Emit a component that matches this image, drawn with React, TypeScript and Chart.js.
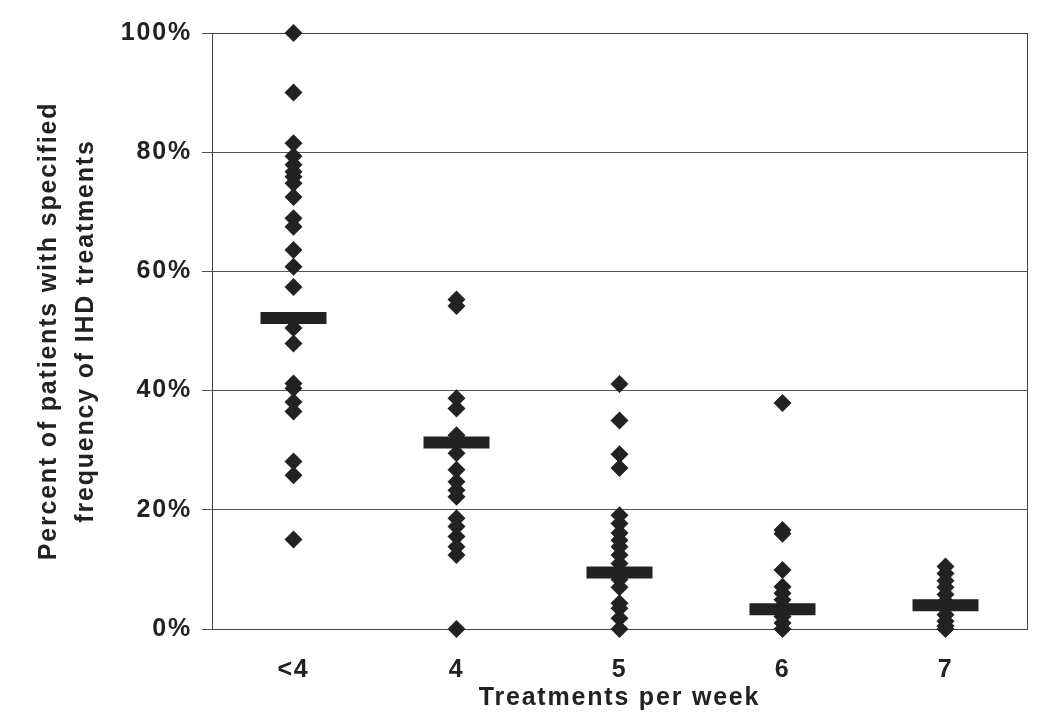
import React, { useEffect, useRef } from 'react';
import { Chart, registerables } from 'chart.js';

Chart.register(...registerables);

const categories = ['<4', '4', '5', '6', '7'];
const lessThan4Values = [100, 90, 81.5, 79.3, 77.9, 76.7, 75.9, 74.8, 72.5, 68.9, 67.5, 63.6, 60.8, 57.4, 50.5, 47.9, 41.2, 40.4, 38.1, 36.5, 28.1, 25.8, 15.0];
const fourValues = [55.3, 54.2, 38.7, 37.0, 32.5, 29.5, 26.7, 24.7, 23.3, 22.2, 18.6, 17.2, 15.5, 13.8, 12.4, 0];
const fiveValues = [41.1, 35.0, 29.3, 27.0, 19.1, 17.7, 16.1, 14.9, 13.8, 12.4, 11.0, 9.8, 8.3, 7.0, 4.3, 3.5, 1.8, 0];
const sixValues = [37.9, 16.6, 16.0, 9.9, 7.1, 6.0, 4.9, 3.8, 2.1, 1.0, 0];
const sevenValues = [10.5, 9.3, 8.1, 7.0, 5.8, 4.6, 3.5, 2.4, 1.3, 0.5, 0];
const medianValues = [52.2, 31.3, 9.5, 3.3, 4.0];
const yTickValues = [0, 20, 40, 60, 80, 100];
const xTitle = 'Treatments per week';
const yTitle = ['Percent of patients with specified', 'frequency of IHD treatments'];

const FONT = "'Liberation Sans', Arial, sans-serif";
const INK = '#222222';
const SPACING = '1.8px';

export default function App() {
  const ref = useRef<HTMLCanvasElement | null>(null);

  useEffect(() => {
    document.body.style.margin = '0';
    const canvas = ref.current;
    if (!canvas) return;

    const groups = [lessThan4Values, fourValues, fiveValues, sixValues, sevenValues];
    const points: { x: string; y: number }[] = [];
    groups.forEach((vals, i) => {
      vals.forEach((v) => points.push({ x: categories[i], y: v }));
    });
    const medians = medianValues.map((v, i) => ({ x: categories[i], y: v }));

    const spacingPlugin = {
      id: 'letterSpacing',
      beforeInit(chart: any) {
        (chart.ctx as any).letterSpacing = SPACING;
      },
      beforeUpdate(chart: any) {
        (chart.ctx as any).letterSpacing = SPACING;
      },
      beforeDraw(chart: any) {
        (chart.ctx as any).letterSpacing = SPACING;
      },
    };

    const borderPlugin = {
      id: 'areaBorder',
      beforeDatasetsDraw(chart: any) {
        const { ctx, chartArea } = chart;
        ctx.save();
        ctx.strokeStyle = '#444';
        ctx.lineWidth = 1;
        ctx.strokeRect(
          Math.round(chartArea.left) + 0.5,
          Math.round(chartArea.top) + 0.5,
          Math.round(chartArea.right - chartArea.left),
          Math.round(chartArea.bottom - chartArea.top)
        );
        ctx.restore();
      },
    };

    const chart = new Chart(canvas, {
      type: 'scatter',
      data: {
        labels: categories,
        datasets: [
          {
            label: 'median',
            data: medians as any,
            pointStyle: 'line',
            pointRadius: 33,
            pointHoverRadius: 33,
            borderWidth: 12,
            pointBorderWidth: 12,
            borderColor: INK,
            backgroundColor: INK,
            clip: false as any,
          },
          {
            label: 'patients',
            data: points as any,
            pointStyle: 'rectRot',
            pointRadius: 9,
            pointHoverRadius: 9,
            borderWidth: 0,
            pointBorderWidth: 0,
            backgroundColor: INK,
            borderColor: INK,
            clip: false as any,
          },
        ],
      },
      options: {
        animation: false,
        responsive: false,
        maintainAspectRatio: false,
        layout: { autoPadding: false, padding: { top: 33, right: 23, left: 0, bottom: 0 } } as any,
        plugins: {
          legend: { display: false },
          tooltip: { enabled: false },
        },
        scales: {
          x: {
            type: 'category',
            labels: categories,
            offset: true,
            grid: { display: false, drawTicks: false },
            border: { display: true, color: '#444', width: 1 },
            ticks: {
              padding: 26,
              color: INK,
              font: { family: FONT, size: 25, weight: 'bold' },
            },
            title: {
              display: true,
              text: xTitle,
              color: INK,
              font: { family: FONT, size: 25, weight: 'bold' },
              padding: { top: 0, bottom: 9 },
            },
            afterFit(scale: any) {
              scale.height = 93;
            },
          } as any,
          y: {
            type: 'linear',
            min: 0,
            max: 100,
            afterBuildTicks(scale: any) {
              scale.ticks = yTickValues.map((v) => ({ value: v }));
            },
            grid: { color: '#555', lineWidth: 1, tickLength: 10, drawTicks: true },
            border: { display: true, color: '#444', width: 1 },
            ticks: {
              padding: 10,
              color: INK,
              font: { family: FONT, size: 25, weight: 'bold' },
              callback: (v: any) => v + '%',
            },
            title: {
              display: true,
              text: yTitle,
              color: INK,
              font: { family: FONT, size: 25, weight: 'bold', lineHeight: 1.48 },
              padding: { top: 31, bottom: 0 },
            },
            afterFit(scale: any) {
              scale.width = 212;
            },
          } as any,
        },
      },
      plugins: [spacingPlugin, borderPlugin],
    });

    return () => chart.destroy();
  }, []);

  return (
    <div style={{ position: 'absolute', left: 0, top: 0, width: 1050, height: 722, background: '#fff' }}>
      <canvas ref={ref} width={1050} height={722} style={{ width: 1050, height: 722, display: 'block' }} />
    </div>
  );
}
